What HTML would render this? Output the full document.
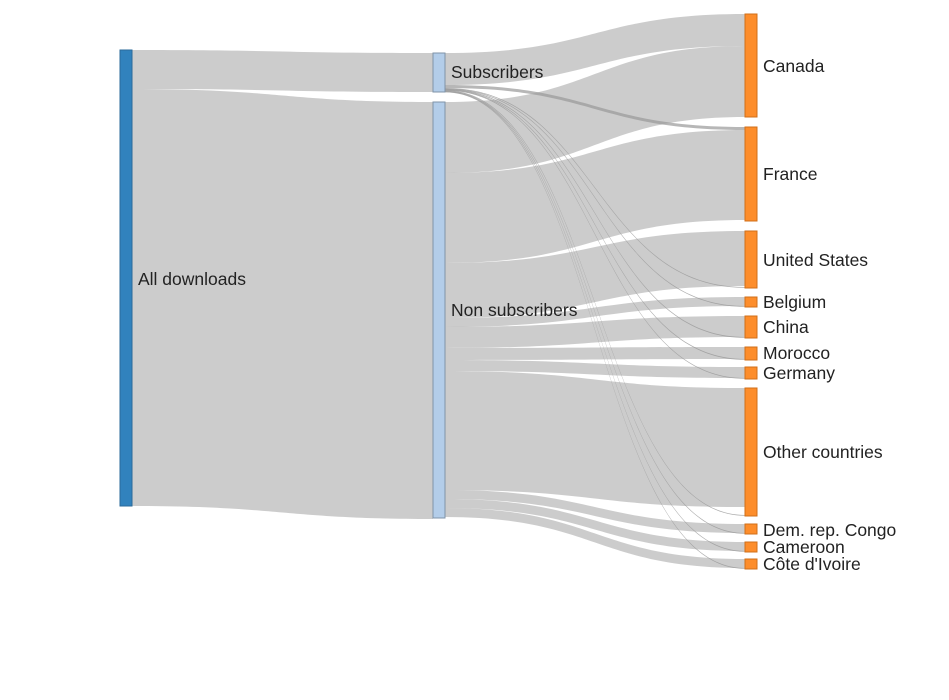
<!DOCTYPE html>
<html><head><meta charset="utf-8"><style>
body{margin:0;background:#fff;width:949px;height:700px;overflow:hidden}
svg{display:block}
text{font-family:"Liberation Sans",sans-serif;font-size:17.5px;fill:#222}
</style></head><body>
<svg id="s" width="949" height="700" xmlns="http://www.w3.org/2000/svg">
<g id="links"></g>
<rect x="120" y="50" width="12" height="456" fill="#3182bd" stroke="#2a6a9a"/>
<rect x="433" y="53" width="12" height="39" fill="#b3cde9" stroke="#7f93a8"/>
<rect x="433" y="102" width="12" height="416" fill="#b3cde9" stroke="#7f93a8"/>
<g fill="#fd8d2b" stroke="#d06f1a">
<rect x="745" y="14" width="12" height="103"/>
<rect x="745" y="127" width="12" height="94"/>
<rect x="745" y="231" width="12" height="57"/>
<rect x="745" y="297" width="12" height="10"/>
<rect x="745" y="316" width="12" height="22"/>
<rect x="745" y="347" width="12" height="13"/>
<rect x="745" y="367" width="12" height="12"/>
<rect x="745" y="388" width="12" height="128"/>
<rect x="745" y="524" width="12" height="10"/>
<rect x="745" y="542" width="12" height="10"/>
<rect x="745" y="559" width="12" height="10"/>
</g>
<text x="138" y="285">All downloads</text>
<text x="451" y="78">Subscribers</text>
<text x="451" y="316">Non subscribers</text>
<text x="763" y="72">Canada</text>
<text x="763" y="180">France</text>
<text x="763" y="266">United States</text>
<text x="763" y="308">Belgium</text>
<text x="763" y="333">China</text>
<text x="763" y="359">Morocco</text>
<text x="763" y="379">Germany</text>
<text x="763" y="458">Other countries</text>
<text x="763" y="536">Dem. rep. Congo</text>
<text x="763" y="553">Cameroon</text>
<text x="763" y="570">Côte d'Ivoire</text>
</svg>
<script>
var g=document.getElementById('links');
function L(x0,y0,x1,y1,h,op){
 var xm=(x0+x1)/2;
 var d='M'+x0+','+y0+'C'+xm+','+y0+' '+xm+','+y1+' '+x1+','+y1+'L'+x1+','+(y1+h)+'C'+xm+','+(y1+h)+' '+xm+','+(y0+h)+' '+x0+','+(y0+h)+'Z';
 var p=document.createElementNS('http://www.w3.org/2000/svg','path');
 p.setAttribute('d',d);p.setAttribute('fill','#999');p.setAttribute('fill-opacity',op||0.5);
 p.setAttribute('stroke','none');g.appendChild(p);
}
L(132,50,433,53,39);
L(132,89,433,102,417);
var X0=445,X1=745;
var n=[[14+32,71],[127+3,90],[231,55],[297,9],[316,21],[347,12],[367,11],[388,119],[524,9],[542,9],[559,9]];
var y=102;
n.forEach(function(a){var h=a[1]; L(X0,y,X1,a[0],h);y+=h;});
L(X0,53,X1,14,32);
L(X0,85,X1,127,3,0.7);
var t=[287,306,337,359,378,515,533,551,568];
var sy=88;
t.forEach(function(ty){L(X0,sy,X1,ty,0.8,0.8);sy+=0.45;});
</script>
</body></html>
